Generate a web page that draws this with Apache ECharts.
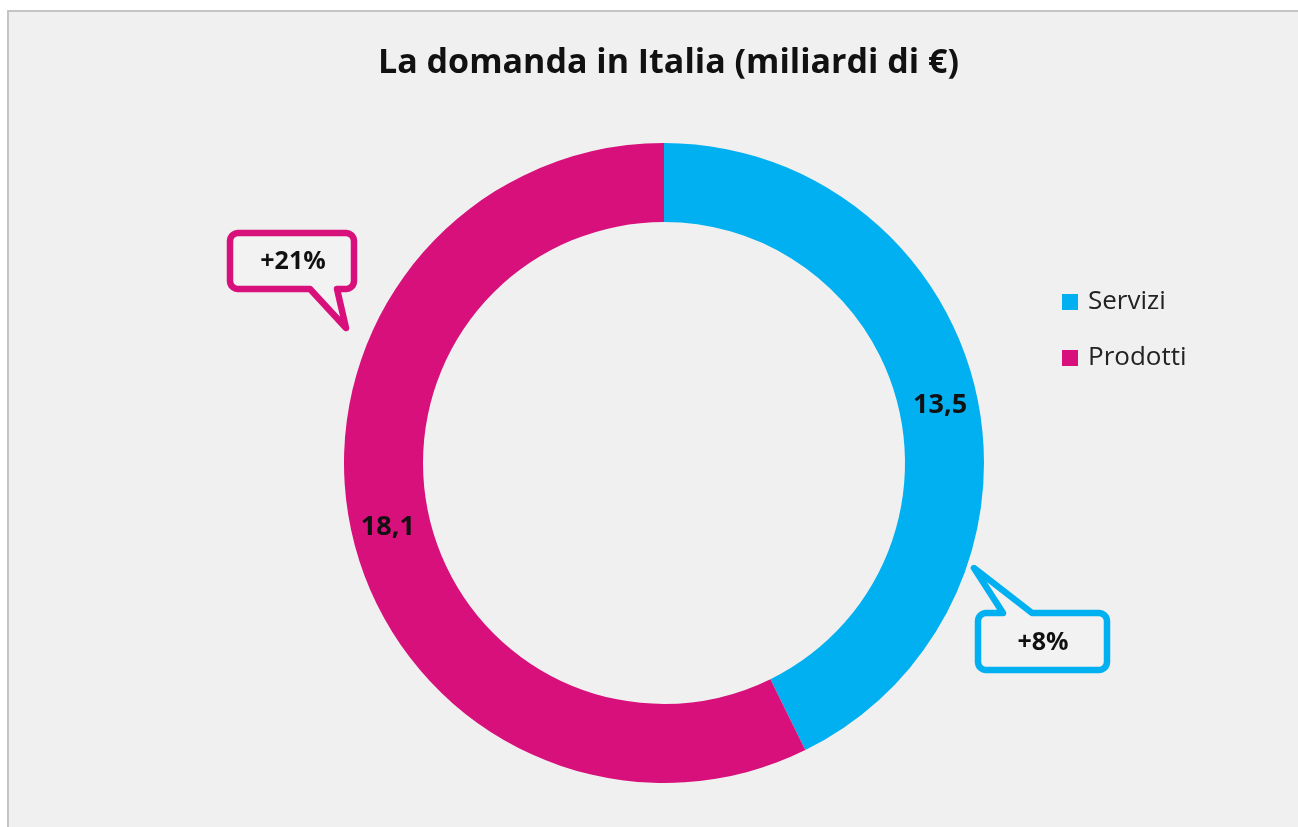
<!DOCTYPE html>
<html>
<head>
<meta charset="utf-8">
<script src="https://cdn.jsdelivr.net/npm/echarts@6/dist/echarts.min.js"></script>
<style>
html,body{margin:0;padding:0;background:#ffffff;}
#chart{width:1298px;height:827px;}
</style>
</head>
<body>
<div id="chart"></div>
<script>
const titleText = 'La domanda in Italia (miliardi di €)';
const categories = ['Servizi', 'Prodotti'];
const values = [13.5, 18.1];
const colors = ['#00b0f0', '#d8107b'];
const growthLabels = ['+8%', '+21%'];

const FONT = '"Open Sans", "Noto Sans", sans-serif';

const chart = echarts.init(document.getElementById('chart'), null, {renderer: 'canvas'});

// rounded rectangle outline with a tail inserted on the top or bottom edge
function bubblePoints(x0, y0, x1, y1, r, tail) {
  const pts = [];
  function arc(cx, cy, a0, a1) {
    const n = 5;
    for (let i = 0; i <= n; i++) {
      const a = a0 + (a1 - a0) * i / n;
      pts.push([cx + r * Math.cos(a), cy + r * Math.sin(a)]);
    }
  }
  arc(x0 + r, y0 + r, Math.PI, 1.5 * Math.PI);
  if (tail.edge === 'top') {
    pts.push([tail.a, y0]); pts.push(tail.tip); pts.push([tail.b, y0]);
  }
  arc(x1 - r, y0 + r, 1.5 * Math.PI, 2 * Math.PI);
  arc(x1 - r, y1 - r, 0, 0.5 * Math.PI);
  if (tail.edge === 'bottom') {
    pts.push([tail.b, y1]); pts.push(tail.tip); pts.push([tail.a, y1]);
  }
  arc(x0 + r, y1 - r, 0.5 * Math.PI, Math.PI);
  return pts;
}

function bubble(points, color, text, tx, ty) {
  return [
    {
      type: 'polygon',
      shape: {points: points},
      style: {fill: '#f2f2f2', stroke: color, lineWidth: 6.5, lineJoin: 'round'},
      z: 10
    },
    {
      type: 'text',
      x: tx, y: ty,
      style: {text: text, font: 'bold 25px ' + FONT, fill: '#111', align: 'center', verticalAlign: 'middle'},
      z: 11
    }
  ];
}

const option = {
  backgroundColor: '#ffffff',
  animation: false,
  title: {
    text: titleText,
    left: 373,
    top: 41,
    textStyle: {fontFamily: FONT, fontWeight: 'bold', fontSize: 34, color: '#111'}
  },
  legend: {
    orient: 'vertical',
    left: 1057,
    top: 284,
    itemWidth: 16,
    itemHeight: 16,
    itemGap: 30,
    icon: 'rect',
    textStyle: {fontFamily: FONT, fontSize: 26, color: '#222', padding: [0, 0, 0, 5]},
    data: categories
  },
  graphic: [
    {
      type: 'rect',
      shape: {x: 8, y: 11, width: 1300, height: 830},
      style: {fill: '#f0f0f0', stroke: '#c4c4c4', lineWidth: 2},
      z: -10
    }
  ].concat(
    bubble(bubblePoints(230, 233, 354, 289, 8, {edge: 'bottom', a: 310, b: 337, tip: [346, 328]}), colors[1], growthLabels[1], 293, 262),
    bubble(bubblePoints(978, 613, 1107, 670, 8, {edge: 'top', a: 1003, b: 1032, tip: [974, 568]}), colors[0], growthLabels[0], 1043, 643)
  ),
  series: [
    {
      type: 'pie',
      center: [664, 463],
      radius: [241, 320],
      startAngle: 90,
      clockwise: true,
      avoidLabelOverlap: false,
      label: {
        show: true,
        position: 'inside',
        fontFamily: FONT,
        fontWeight: 'bold',
        fontSize: 27,
        color: '#111',
        formatter: p => String(p.value).replace('.', ',')
      },
      labelLine: {show: false},
      emphasis: {disabled: true},
      itemStyle: {borderWidth: 0},
      data: categories.map((c, i) => ({
        name: c,
        value: values[i],
        itemStyle: {color: colors[i]},
        label: i === 0 ? {offset: [0, 7]} : {}
      }))
    }
  ]
};

chart.setOption(option);
</script>
</body>
</html>
